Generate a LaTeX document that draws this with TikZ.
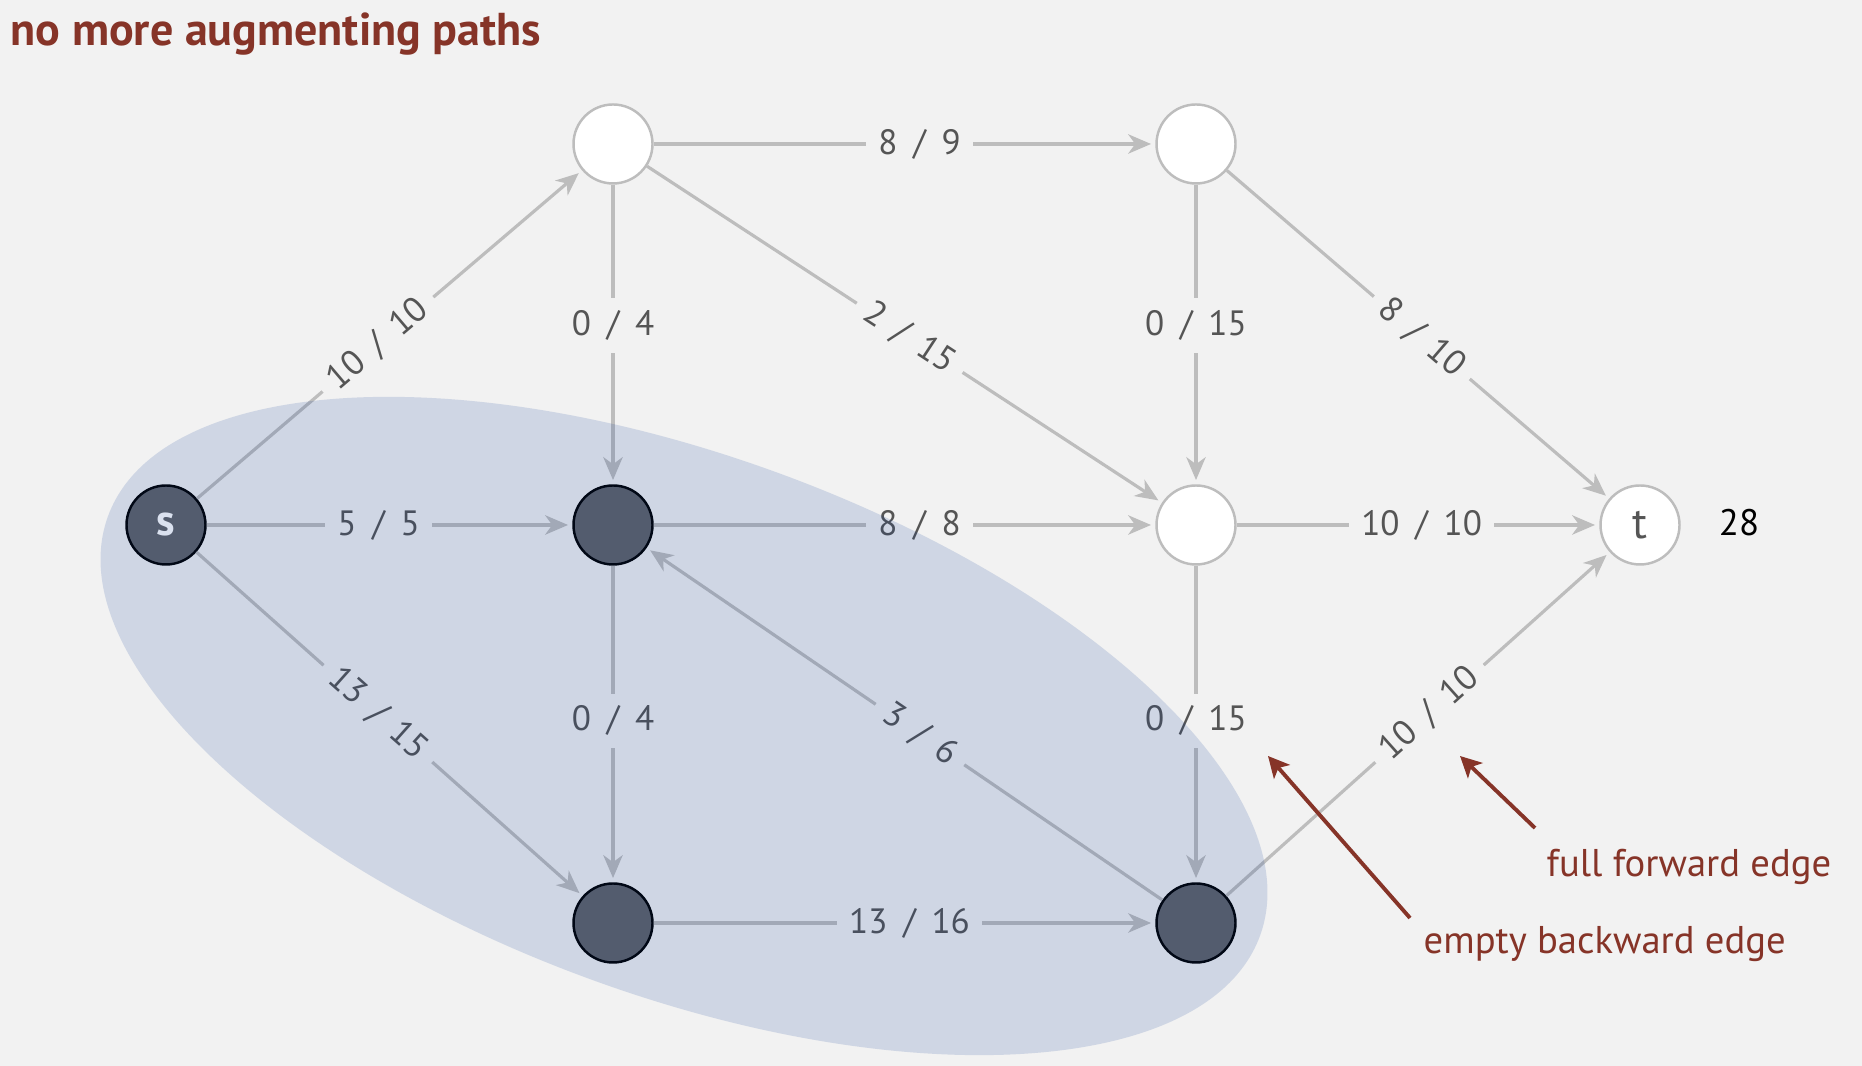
\documentclass[tikz,border=0pt]{standalone}
\usepackage{fontspec}
\setmainfont{PT Sans}
\usetikzlibrary{arrows.meta}

\definecolor{bg}{RGB}{242,242,242}
\definecolor{edgegray}{RGB}{189,189,189}
\definecolor{labelgray}{RGB}{85,85,85}
\definecolor{cutnode}{RGB}{97,99,104}
\definecolor{cutshade}{RGB}{9,56,149}
\definecolor{note}{RGB}{134,52,40}

\begin{document}
\begin{tikzpicture}[
    vertex/.style={circle, draw=edgegray, fill=white, line width=0.7pt, minimum size=0.79cm, inner sep=0pt, text=labelgray, font=\fontsize{12.5}{14}\selectfont},
    cutvertex/.style={vertex, draw=black, fill=cutnode, text=white, font=\bfseries\fontsize{12.5}{14}\selectfont},
    flowedge/.style={draw=edgegray, line width=0.9pt, -{Stealth[length=6.5pt, width=5.5pt, inset=2pt]}, shorten >=1.2pt},
    flow/.style={fill=bg, text=labelgray, inner sep=3.5pt, font=\fontsize{10}{12}\selectfont\spaceskip 0.45em\relax},
    remark/.style={text=note, inner sep=0pt, font=\fontsize{11}{13}\selectfont},
    pointer/.style={draw=note, line width=1.1pt, -{Stealth[length=6pt, width=6pt, inset=1.5pt]}}
]
    % Background
    \fill[bg] (0,0) rectangle (18.62,10.66);
    \useasboundingbox (0,0) rectangle (18.62,10.66);

    % Title
    \node[anchor=base west, inner sep=0pt, text=note, font=\bfseries\fontsize{13.1}{15}\selectfont] (title) at (0.10,10.20) {no more augmenting paths};

    % Vertices
    \node[cutvertex] (s) at (1.66,5.41) {s};
    \node[vertex] (v1) at (6.13,9.22) {};
    \node[vertex] (v2) at (11.96,9.22) {};
    \node[cutvertex] (v3) at (6.13,5.41) {};
    \node[vertex] (v4) at (11.96,5.41) {};
    \node[vertex] (t) at (16.40,5.41) {t};
    \node[cutvertex] (v5) at (6.13,1.43) {};
    \node[cutvertex] (v6) at (11.96,1.43) {};

    % Flow value
    \node[font=\fontsize{10.5}{12}\selectfont] (value) at (17.39,5.43) {28};

    % Edges with flow / capacity
    \draw[flowedge] (s) -- node[flow, sloped, pos=0.47] {10 / 10} (v1);
    \draw[flowedge] (s) -- node[flow, pos=0.47] {5 / 5} (v3);
    \draw[flowedge] (s) -- node[flow, sloped, pos=0.47] {13 / 15} (v5);
    \draw[flowedge] (v1) -- node[flow, pos=0.53] {8 / 9} (v2);
    \draw[flowedge] (v1) -- node[flow, pos=0.47] {0 / 4} (v3);
    \draw[flowedge] (v1) -- node[flow, sloped, pos=0.51] {2 / 15} (v4);
    \draw[flowedge] (v2) -- node[flow, pos=0.47] {0 / 15} (v4);
    \draw[flowedge] (v2) -- node[flow, sloped, pos=0.51] {8 / 10} (t);
    \draw[flowedge] (v3) -- node[flow, pos=0.53] {8 / 8} (v4);
    \draw[flowedge] (v3) -- node[flow, pos=0.49] {0 / 4} (v5);
    \draw[flowedge] (v4) -- node[flow, pos=0.51] {10 / 10} (t);
    \draw[flowedge] (v4) -- node[flow, pos=0.49] {0 / 15} (v6);
    \draw[flowedge] (v5) -- node[flow, pos=0.51] {13 / 16} (v6);
    \draw[flowedge] (v6) -- node[flow, sloped, pos=0.47] {3 / 6} (v3);
    \draw[flowedge] (v6) -- node[flow, sloped, pos=0.53] {10 / 10} (t);

    % Cut side A
    \fill[cutshade, fill opacity=0.15, rotate around={-20:(6.84,3.40)}] (6.84,3.40) ellipse (6.13 and 2.70);

    % Remarks
    \node[remark, anchor=base west] (forward) at (15.46,1.89) {full forward edge};
    \node[remark, anchor=base west] (backward) at (14.23,1.12) {empty backward edge};
    \coordinate (forwardtail) at (15.35,2.38);
    \coordinate (forwardtip) at (14.60,3.10);
    \coordinate (backwardtail) at (14.10,1.48);
    \coordinate (backwardtip) at (12.68,3.10);
    \draw[pointer] (forwardtail) -- (forwardtip);
    \draw[pointer] (backwardtail) -- (backwardtip);
\end{tikzpicture}
\end{document}
